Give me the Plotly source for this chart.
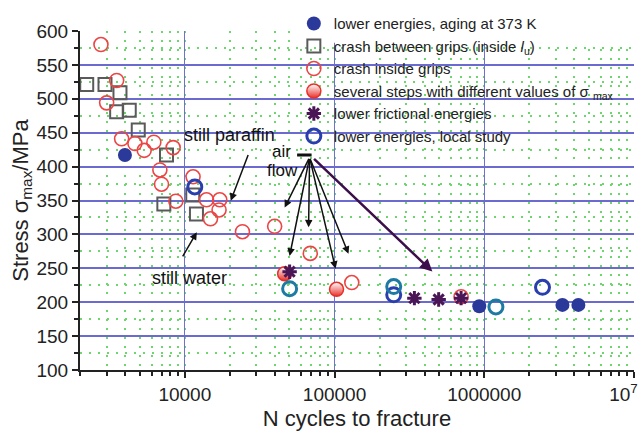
import plotly.graph_objects as go

# ---------------- data ----------------
aging_N = [3981, 926000, 3327000, 4252000]
aging_S = [417, 194, 196, 196]

between_N = [2212, 2930, 3690, 3506, 4255, 4887, 7546, 7244, 11300, 11960]
between_S = [521, 521, 509, 481, 483, 454, 417, 345, 358, 330]

inside_N = [2754, 3506, 3006, 3784, 4642, 5354, 6210, 8359, 6813, 6990, 8710,
            11350, 13960, 17110, 16930, 14840, 24270, 39810, 68870, 130400, 700000]
inside_S = [580, 527, 494, 441, 434, 424, 436, 428, 395, 374, 349,
            385, 351, 351, 336, 323, 304, 312, 272, 229, 208]

steps_N = [46420, 103100]
steps_S = [242, 219]

fric_N = [50120, 341400, 495900, 700000]
fric_S = [245, 206, 204, 206]

local_N = [11660, 248500, 2449000, 50120, 248500, 1196000]
local_S = [370, 211, 222, 220, 223, 193]
local_col = ["#2a3fae", "#2a3fae", "#2a3fae", "#1d7aa3", "#1d7aa3", "#1d7aa3"]

x_tickvals = [1e4, 1e5, 1e6, 1e7]
x_ticktext = ["10000", "100000", "1000000", "10<sup>7</sup>&nbsp;&nbsp;&nbsp;&nbsp;"]

FONT = "Liberation Sans, Arial, sans-serif"
GREEN = "#6fd66f"

fig = go.Figure()
fig.add_trace(go.Scatter(x=aging_N, y=aging_S, mode="markers",
                         name="lower energies, aging at 373 K",
                         marker=dict(symbol="circle", size=14, color="#2b3a9a")))
fig.add_trace(go.Scatter(x=between_N, y=between_S, mode="markers",
                         name="crash between grips (inside <i>l</i><sub>u</sub>)",
                         marker=dict(symbol="square-open", size=13, color="#5a5a5a",
                                     line=dict(width=2))))
fig.add_trace(go.Scatter(x=inside_N, y=inside_S, mode="markers",
                         name="crash inside grips",
                         marker=dict(symbol="circle-open", size=14, color="#ec4545",
                                     line=dict(width=1.6))))
fig.add_trace(go.Scatter(x=steps_N, y=steps_S, mode="markers",
                         name="several steps with different values of σ <sub>max</sub>",
                         marker=dict(symbol="circle", size=14, color="#ffffff",
                                     gradient=dict(type="vertical", color="#e8302a"),
                                     line=dict(width=1.5, color="#e8302a"))))
fig.add_trace(go.Scatter(x=fric_N, y=fric_S, mode="markers",
                         name="lower frictional energies",
                         marker=dict(symbol="asterisk-open", size=12, color="#4a1656",
                                     line=dict(width=3, color="#4a1656"))))
fig.add_trace(go.Scatter(x=local_N, y=local_S, mode="markers",
                         name="lower energies, local study",
                         marker=dict(symbol="circle-open", size=14, color=local_col,
                                     line=dict(width=3))))

# ---------------- annotations ----------------
ann = []
def text(x, y, t, xanchor="center", align="center", size=18):
    ann.append(dict(x=x, y=y, xref="x", yref="y", text=t, showarrow=False,
                    xanchor=xanchor, align=align,
                    font=dict(family=FONT, size=size, color="#111")))

def arrow(tx, ty, sx, sy, color="#111", width=1.5, head=2, size=1.0):
    ann.append(dict(x=tx, y=ty, ax=sx, ay=sy, xref="x", yref="y", axref="x", ayref="y",
                    text="", showarrow=True, arrowhead=head, arrowsize=size,
                    arrowwidth=width, arrowcolor=color))

text(4.30, 447, "still paraffin")
text(4.033, 236, "still water")
text(4.647, 423, "air", size=17)
text(4.653, 394, "flow", size=17)

arrow(4.3067, 349.6, 4.4267, 419.3)
arrow(4.08, 303.2, 3.98, 265.4)
arrow(4.8467, 417.1, 4.74, 417.1, head=0, width=3)
tail = (4.8333, 413.5)
for tx, ty in [(4.6667, 339.5), (4.70, 268.3), (4.8267, 310.4), (5.0067, 249.5), (5.0933, 271.3)]:
    arrow(tx, ty, tail[0], tail[1])
arrow(5.6533, 245.1, 4.8533, 413.5, color="#3d0f4a", width=2.5, head=2, size=1.0)

fig.update_layout(
    width=641, height=431,
    margin=dict(l=80, r=7, t=25, b=61),
    paper_bgcolor="white", plot_bgcolor="white",
    font=dict(family=FONT, color="#222"),
    annotations=ann,
    shapes=[dict(type="rect", xref="paper", yref="paper", x0=0.385, x1=1.02,
                 y0=0.965, y1=1.03, fillcolor="white", line=dict(width=0),
                 layer="above")],
    legend=dict(x=0.386, y=1.07, xanchor="left", yanchor="top",
                bgcolor="rgba(0,0,0,0)", font=dict(family=FONT, size=15, color="#222"),
                itemsizing="trace", tracegroupgap=0),
    showlegend=True,
)

fig.update_xaxes(
    type="log", range=[3.3, 7], automargin=False,
    tickmode="array", tickvals=x_tickvals, ticktext=x_ticktext,
    ticklabeloverflow="allow",
    tickfont=dict(size=19, color="#222"),
    ticks="outside", ticklen=6, tickcolor="#222", tickwidth=1.5,
    showline=True, linecolor="#222", linewidth=2,
    showgrid=True, gridcolor="#7070d0", gridwidth=1.2,
    zeroline=False,
    minor=dict(tickmode="linear", tick0=0, dtick="D1", ticks="outside", ticklen=4,
               tickcolor="#222", showgrid=True, gridcolor=GREEN,
               griddash="2px,7px", gridwidth=1.6),
    title=dict(text="N cycles to fracture", font=dict(size=22, color="#222"), standoff=8),
)
fig.update_yaxes(
    range=[100, 600], tick0=100, dtick=50, automargin=False,
    tickfont=dict(size=19, color="#222"),
    ticks="outside", ticklen=6, tickcolor="#222", tickwidth=1.5,
    showline=True, linecolor="#222", linewidth=2,
    showgrid=True, gridcolor="#6a6ad0", gridwidth=1.5,
    zeroline=False,
    minor=dict(dtick=25, ticks="outside", ticklen=4, tickcolor="#222",
               showgrid=True, gridcolor=GREEN, griddash="2px,7px", gridwidth=1.6),
    title=dict(text="Stress σ<sub>max</sub>/MPa", font=dict(size=22, color="#222"), standoff=2),
)

fig.write_html("out.html")
